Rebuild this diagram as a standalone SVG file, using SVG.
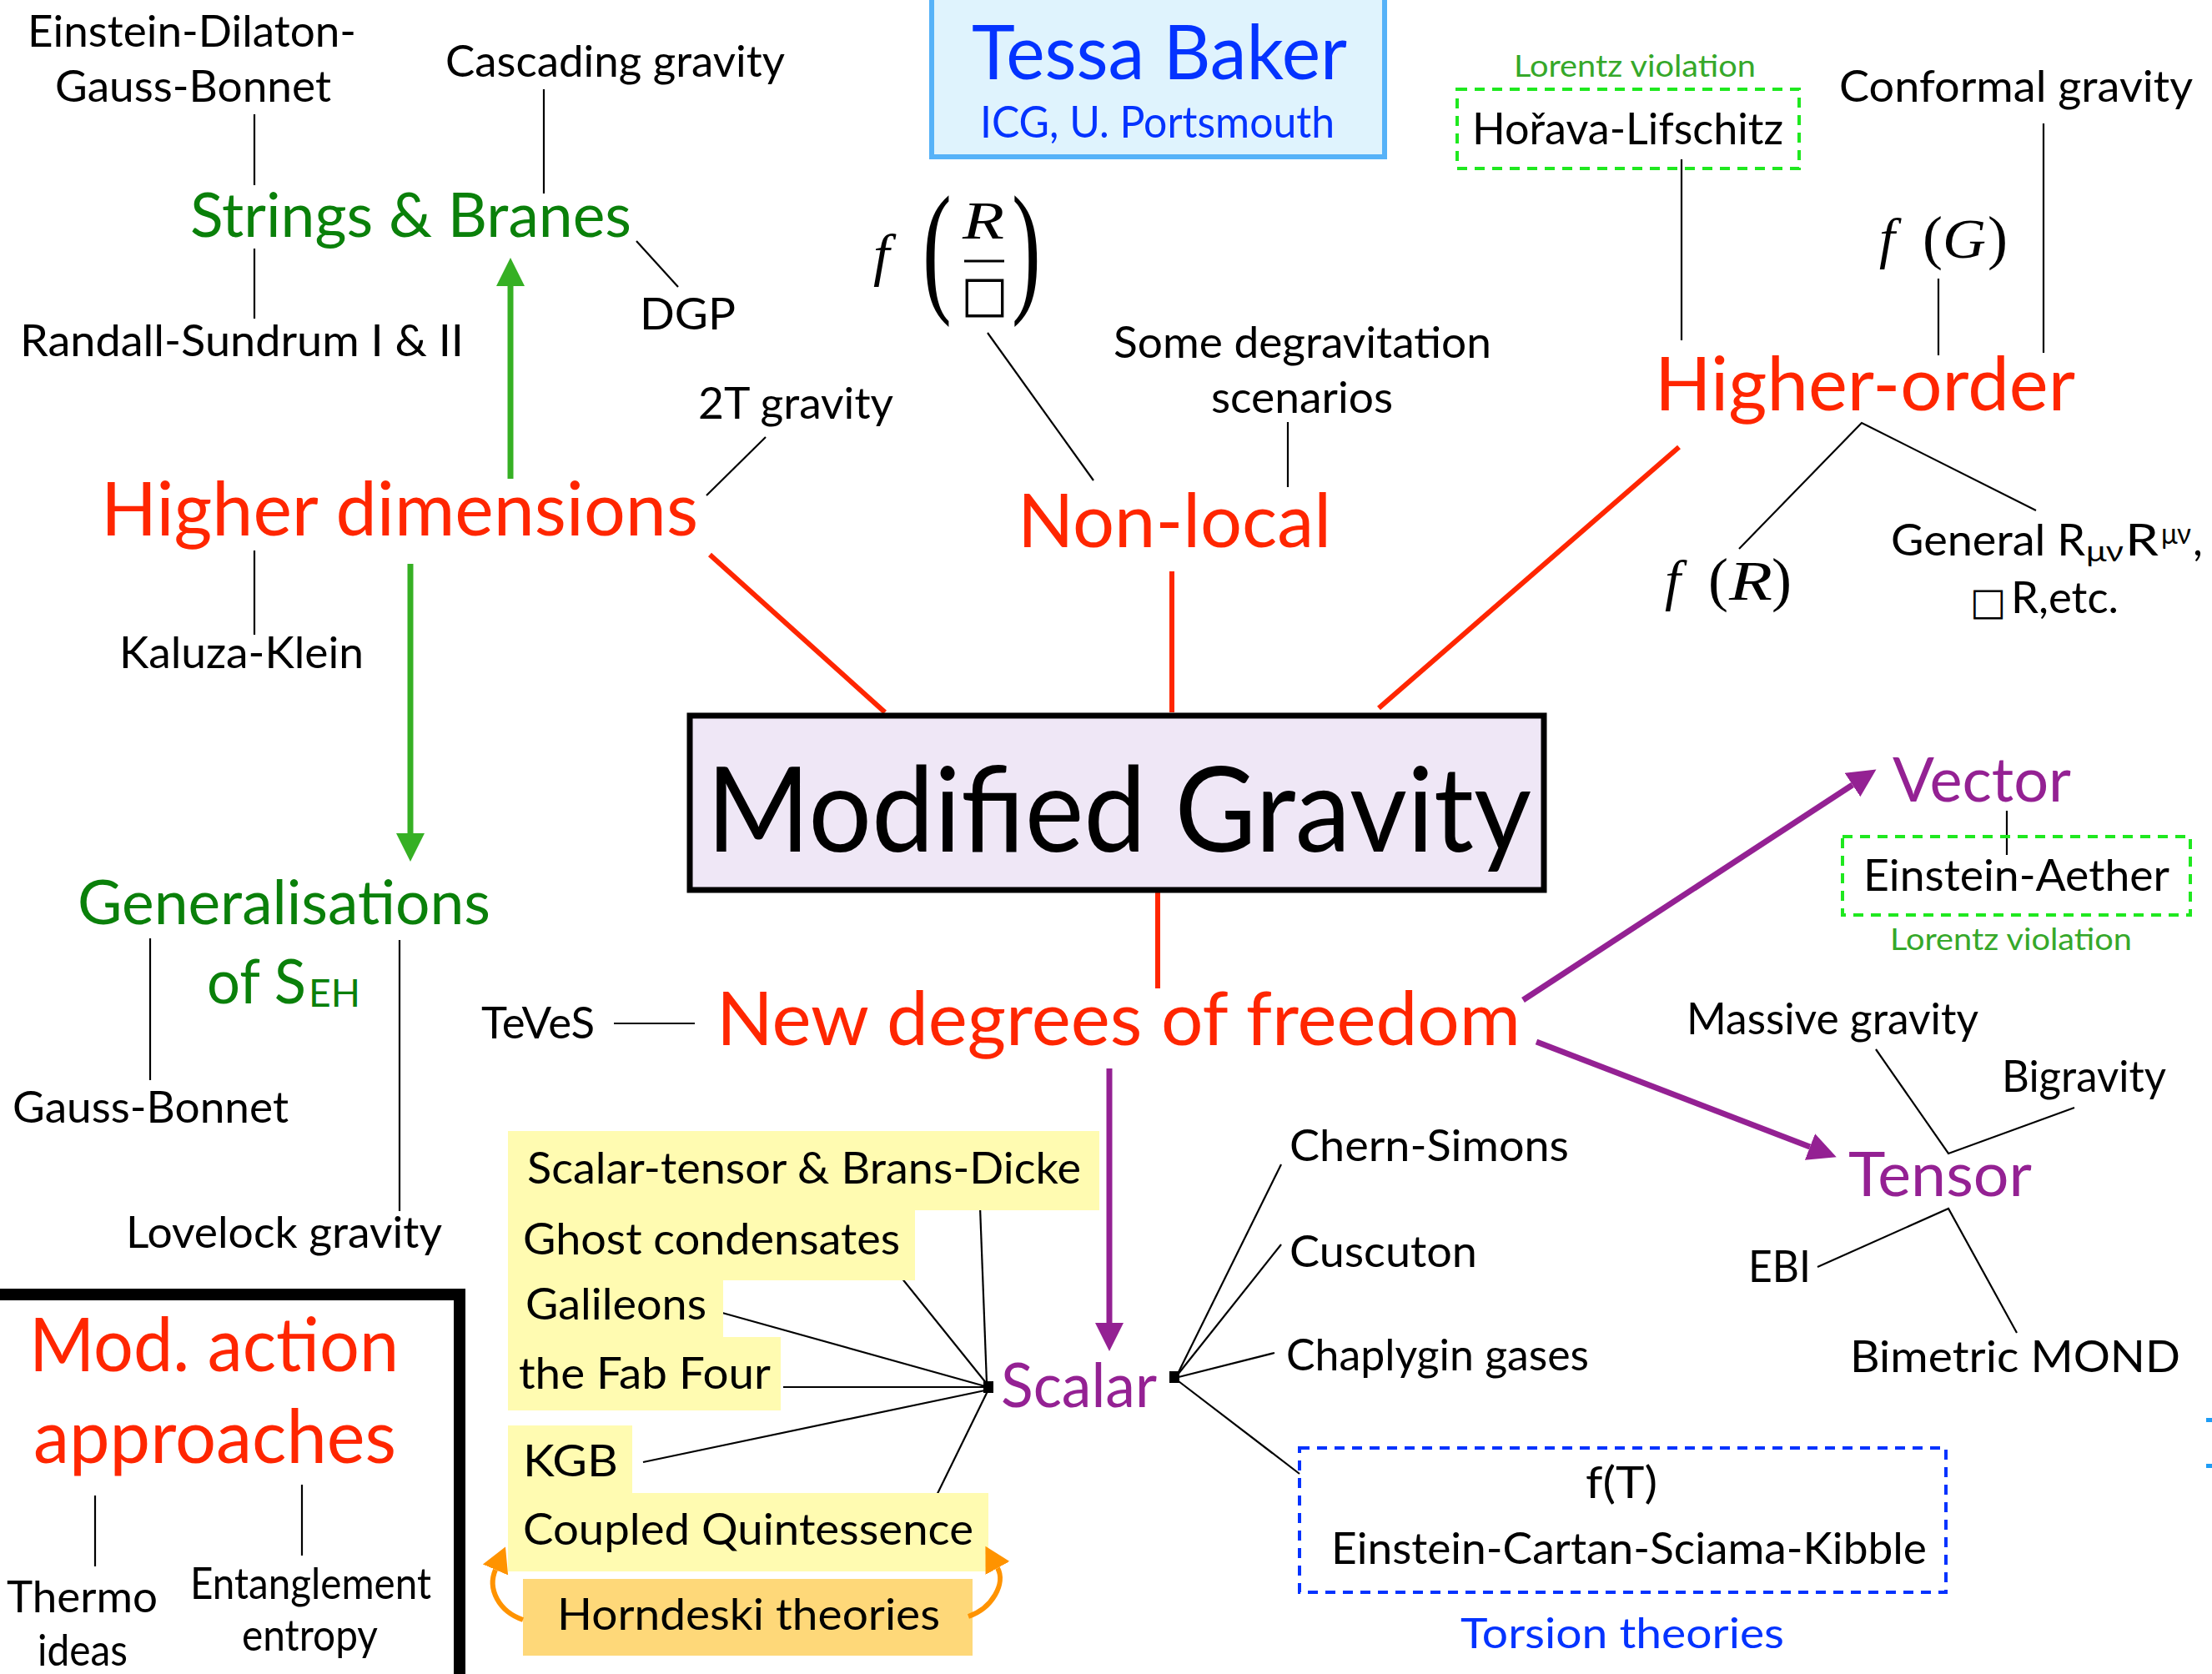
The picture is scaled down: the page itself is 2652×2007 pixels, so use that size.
<svg xmlns="http://www.w3.org/2000/svg" width="2652" height="2007" viewBox="0 0 2652 2007">
<style>
text { font-family: Lato, "Open Sans", sans-serif; }
.lbl { font-size: 52px; fill: #000; }
.red { font-size: 90px; fill: #ff2600; }
.grn { font-size: 74px; fill: #0a800a; }
.pur { font-size: 73px; fill: #942193; }
.lor { font-size: 36px; fill: #36a82a; }
.blu { fill: #0433ff; }
.math { font-family: "Liberation Serif", "Times New Roman", serif; fill: #000; }
.mi { font-family: "Liberation Serif", "Times New Roman", serif; font-style: italic; fill: #000; }
.sym { font-family: "DejaVu Sans", sans-serif; fill: #000; }
.ln { stroke: #000; stroke-width: 2.2; fill: none; }
.rl { stroke: #ff2600; stroke-width: 6; fill: none; }
.ga { stroke: #36b024; stroke-width: 7; marker-end: url(#gh); }
.pa { stroke: #942193; stroke-width: 7; marker-end: url(#ph); }
.oa { stroke: #ff9300; stroke-width: 6; fill: none; marker-end: url(#oh); }
.dg { fill: none; stroke: #1fe81f; stroke-width: 4; stroke-dasharray: 12 9; }
.db { fill: none; stroke: #0433ff; stroke-width: 4; stroke-dasharray: 12 9; }
.yb { fill: #fffbb1; }
</style>
<defs>
<marker id="gh" markerUnits="userSpaceOnUse" markerWidth="36" markerHeight="36" viewBox="0 0 36 36" refX="0" refY="18" orient="auto"><path d="M0,1 L34,18 L0,35 Z" fill="#36b024"/></marker>
<marker id="ph" markerUnits="userSpaceOnUse" markerWidth="36" markerHeight="36" viewBox="0 0 36 36" refX="0" refY="18" orient="auto"><path d="M0,1 L34,18 L0,35 Z" fill="#942193"/></marker>
<marker id="oh" markerUnits="userSpaceOnUse" markerWidth="32" markerHeight="35" viewBox="0 0 32 35" refX="0" refY="17.5" orient="auto"><path d="M0,1 L30,17.5 L0,34 Z" fill="#ff9300"/></marker>
</defs>
<rect width="2652" height="2007" fill="#fff"/>

<g id="connectors">
  <line class="ln" x1="305" y1="137" x2="305" y2="222"/>
  <line class="ln" x1="652" y1="107" x2="652" y2="232"/>
  <line class="ln" x1="305" y1="298" x2="305" y2="382"/>
  <line class="ln" x1="763" y1="289" x2="813" y2="344"/>
  <line class="ln" x1="918" y1="524" x2="847" y2="594"/>
  <line class="ln" x1="305" y1="660" x2="305" y2="761"/>
  <line class="ln" x1="1184" y1="399" x2="1311" y2="576"/>
  <line class="ln" x1="1544" y1="506" x2="1544" y2="584"/>
  <line class="ln" x1="2016" y1="191" x2="2016" y2="408"/>
  <line class="ln" x1="2324" y1="334" x2="2324" y2="426"/>
  <line class="ln" x1="2450" y1="148" x2="2450" y2="423"/>
  <polyline class="ln" points="2085,658 2232,507 2441,612"/>
  <line class="ln" x1="180" y1="1125" x2="180" y2="1295"/>
  <line class="ln" x1="479" y1="1127" x2="479" y2="1452"/>
  <line class="ln" x1="736" y1="1227" x2="833" y2="1227"/>
  <line class="ln" x1="114" y1="1793" x2="114" y2="1878"/>
  <line class="ln" x1="362" y1="1780" x2="362" y2="1865"/>
  <line class="ln" x1="2406" y1="972" x2="2406" y2="1025"/>
  <polyline class="ln" points="2249,1258 2336,1383 2487,1328"/>
  <polyline class="ln" points="2179,1519 2336,1449 2418,1598"/>
  <line class="ln" x1="1175" y1="1447" x2="1183" y2="1658"/>
  <line class="ln" x1="1068" y1="1516" x2="1183" y2="1659"/>
  <line class="ln" x1="866" y1="1574" x2="1181" y2="1662"/>
  <line class="ln" x1="939" y1="1663" x2="1181" y2="1663"/>
  <line class="ln" x1="771" y1="1753" x2="1181" y2="1667"/>
  <line class="ln" x1="1115" y1="1809" x2="1184" y2="1668"/>
  <rect x="1179" y="1656" width="12" height="14" fill="#000"/>
  <line class="ln" x1="1412" y1="1647" x2="1536" y2="1396"/>
  <line class="ln" x1="1412" y1="1648" x2="1536" y2="1492"/>
  <line class="ln" x1="1413" y1="1651" x2="1528" y2="1622"/>
  <line class="ln" x1="1413" y1="1656" x2="1558" y2="1767"/>
  <rect x="1402" y="1644" width="12" height="14" fill="#000"/>
  <line class="rl" x1="851" y1="665" x2="1061" y2="854"/>
  <line class="rl" x1="1405" y1="685" x2="1405" y2="854"/>
  <line class="rl" x1="2013" y1="536" x2="1653" y2="849"/>
  <line class="rl" x1="1388" y1="1070" x2="1388" y2="1185"/>
  <line class="ga" x1="612" y1="574" x2="612" y2="343"/>
  <line class="ga" x1="492" y1="676" x2="492" y2="999"/>
  <line class="pa" x1="1330" y1="1281" x2="1330" y2="1586"/>
  <line class="pa" x1="1826" y1="1199" x2="2221" y2="941"/>
  <line class="pa" x1="1842" y1="1249" x2="2170" y2="1375"/>
</g>

<g id="tessa-baker">
  <rect x="1117" y="-3" width="543" height="191" fill="#dff3fd" stroke="#56b2f8" stroke-width="6"/>
  <text class="blu" x="1165" y="95" font-size="91" textLength="450" lengthAdjust="spacingAndGlyphs">Tessa Baker</text>
  <text class="blu" x="1175" y="165" font-size="52" textLength="425" lengthAdjust="spacingAndGlyphs">ICG, U. Portsmouth</text>
</g>

<g id="modified-gravity">
  <rect x="827" y="858" width="1024" height="209" fill="#efe7f6" stroke="#000" stroke-width="7"/>
  <text x="847" y="1021" font-size="141" fill="#000" textLength="989" lengthAdjust="spacingAndGlyphs">Modified Gravity</text>
</g>

<g id="higher-dimensions"><text class="red" x="121" y="642" textLength="716" lengthAdjust="spacingAndGlyphs">Higher dimensions</text></g>
<g id="non-local"><text class="red" x="1220" y="656" textLength="376" lengthAdjust="spacingAndGlyphs">Non-local</text></g>
<g id="higher-order"><text class="red" x="1984" y="492" textLength="504" lengthAdjust="spacingAndGlyphs">Higher-order</text></g>
<g id="new-dof"><text class="red" x="859" y="1253" textLength="964" lengthAdjust="spacingAndGlyphs">New degrees of freedom</text></g>

<g id="strings-branes"><text class="grn" x="228" y="284" textLength="529" lengthAdjust="spacingAndGlyphs">Strings &amp; Branes</text></g>
<g id="generalisations">
  <text class="grn" x="93" y="1108" textLength="495" lengthAdjust="spacingAndGlyphs">Generalisations</text>
  <text class="grn" x="248" y="1203" textLength="119" lengthAdjust="spacingAndGlyphs">of S</text>
  <text x="370" y="1207" font-size="46" fill="#0a800a" textLength="62" lengthAdjust="spacingAndGlyphs">EH</text>
</g>

<g id="edgb"><text class="lbl" x="33" y="56" textLength="394" lengthAdjust="spacingAndGlyphs">Einstein-Dilaton-</text><text class="lbl" x="66" y="122" textLength="331" lengthAdjust="spacingAndGlyphs">Gauss-Bonnet</text></g>
<g id="cascading"><text class="lbl" x="534" y="92" textLength="407" lengthAdjust="spacingAndGlyphs">Cascading gravity</text></g>
<g id="randall-sundrum"><text class="lbl" x="24" y="427" textLength="532" lengthAdjust="spacingAndGlyphs">Randall-Sundrum I &amp; II</text></g>
<g id="dgp"><text class="lbl" x="767" y="395" textLength="115" lengthAdjust="spacingAndGlyphs">DGP</text></g>
<g id="twot"><text class="lbl" x="837" y="502" textLength="234" lengthAdjust="spacingAndGlyphs">2T gravity</text></g>
<g id="kaluza-klein"><text class="lbl" x="143" y="801" textLength="293" lengthAdjust="spacingAndGlyphs">Kaluza-Klein</text></g>
<g id="gauss-bonnet"><text class="lbl" x="15" y="1346" textLength="331" lengthAdjust="spacingAndGlyphs">Gauss-Bonnet</text></g>
<g id="lovelock"><text class="lbl" x="151" y="1496" textLength="379" lengthAdjust="spacingAndGlyphs">Lovelock gravity</text></g>
<g id="teves"><text class="lbl" x="577" y="1245" textLength="136" lengthAdjust="spacingAndGlyphs">TeVeS</text></g>
<g id="degravitation"><text class="lbl" x="1335" y="429" textLength="453" lengthAdjust="spacingAndGlyphs">Some degravitation</text><text class="lbl" x="1452" y="495" textLength="218" lengthAdjust="spacingAndGlyphs">scenarios</text></g>

<g id="f-r-box">
  <text class="mi" x="1047" y="329" font-size="70">f</text>
  <text class="math" font-size="174" transform="translate(1106,355) scale(0.6,1)">(</text>
  <text class="mi" x="1154" y="286" font-size="64" textLength="50" lengthAdjust="spacingAndGlyphs">R</text>
  <line x1="1156" y1="313" x2="1204" y2="313" stroke="#000" stroke-width="3"/>
  <text class="sym" x="1152" y="373" font-size="60">□</text>
  <text class="math" font-size="174" transform="translate(1213,355) scale(0.6,1)">)</text>
</g>

<g id="horava">
  <text class="lor" x="1815" y="92" textLength="290" lengthAdjust="spacingAndGlyphs">Lorentz violation</text>
  <rect class="dg" x="1747" y="107" width="410" height="95"/>
  <text class="lbl" x="1765" y="173" textLength="373" lengthAdjust="spacingAndGlyphs">Hořava-Lifschitz</text>
</g>
<g id="conformal"><text class="lbl" x="2205" y="122" textLength="424" lengthAdjust="spacingAndGlyphs">Conformal gravity</text></g>
<g id="f-g">
  <text class="mi" x="2253" y="309" font-size="68">f</text>
  <text class="math" x="2305" y="309" font-size="72">(</text>
  <text class="mi" x="2329" y="309" font-size="68" textLength="52" lengthAdjust="spacingAndGlyphs">G</text>
  <text class="math" x="2383" y="309" font-size="72">)</text>
</g>
<g id="f-r">
  <text class="mi" x="1996" y="719" font-size="68">f</text>
  <text class="math" x="2048" y="719" font-size="72">(</text>
  <text class="mi" x="2073" y="719" font-size="68" textLength="52" lengthAdjust="spacingAndGlyphs">R</text>
  <text class="math" x="2124" y="719" font-size="72">)</text>
</g>
<g id="general">
  <text class="lbl" x="2267" y="666" textLength="233" lengthAdjust="spacingAndGlyphs">General R</text>
  <text x="2501" y="673" font-size="34" fill="#000" textLength="45" lengthAdjust="spacingAndGlyphs">μν</text>
  <text class="lbl" x="2548" y="666" textLength="40" lengthAdjust="spacingAndGlyphs">R</text>
  <text x="2591" y="652" font-size="34" fill="#000" textLength="36" lengthAdjust="spacingAndGlyphs">μν</text>
  <text class="lbl" x="2629" y="666">,</text>
  <text class="sym" x="2362" y="737" font-size="46">□</text>
  <text class="lbl" x="2411" y="735" textLength="129" lengthAdjust="spacingAndGlyphs">R,etc.</text>
</g>

<g id="vector">
  <text class="pur" x="2269" y="961" textLength="214" lengthAdjust="spacingAndGlyphs">Vector</text>
</g>
<g id="einstein-aether">
  <rect class="dg" x="2209" y="1003" width="417" height="94"/>
  <text class="lbl" x="2234" y="1068" textLength="367" lengthAdjust="spacingAndGlyphs">Einstein-Aether</text>
  <text class="lor" x="2266" y="1139" textLength="290" lengthAdjust="spacingAndGlyphs">Lorentz violation</text>
</g>
<g id="tensor"><text class="pur" x="2216" y="1434" textLength="220" lengthAdjust="spacingAndGlyphs">Tensor</text></g>
<g id="massive"><text class="lbl" x="2022" y="1240" textLength="350" lengthAdjust="spacingAndGlyphs">Massive gravity</text></g>
<g id="bigravity"><text class="lbl" x="2400" y="1309" textLength="197" lengthAdjust="spacingAndGlyphs">Bigravity</text></g>
<g id="ebi"><text class="lbl" x="2096" y="1537" textLength="75" lengthAdjust="spacingAndGlyphs">EBI</text></g>
<g id="bimetric"><text class="lbl" x="2218" y="1645" textLength="396" lengthAdjust="spacingAndGlyphs">Bimetric MOND</text></g>

<g id="scalar"><text class="pur" x="1200" y="1687" textLength="187" lengthAdjust="spacingAndGlyphs">Scalar</text></g>

<g id="scalar-theories">
  <rect class="yb" x="609" y="1356" width="709" height="95"/>
  <rect class="yb" x="609" y="1450" width="488" height="85"/>
  <rect class="yb" x="609" y="1534" width="258" height="70"/>
  <rect class="yb" x="609" y="1603" width="327" height="88"/>
  <rect class="yb" x="609" y="1709" width="149" height="82"/>
  <rect class="yb" x="609" y="1790" width="576" height="94"/>
  <text class="lbl" x="632" y="1419" textLength="664" lengthAdjust="spacingAndGlyphs">Scalar-tensor &amp; Brans-Dicke</text>
  <text class="lbl" x="627" y="1504" textLength="452" lengthAdjust="spacingAndGlyphs">Ghost condensates</text>
  <text class="lbl" x="630" y="1582" textLength="217" lengthAdjust="spacingAndGlyphs">Galileons</text>
  <text class="lbl" x="622" y="1665" textLength="302" lengthAdjust="spacingAndGlyphs">the Fab Four</text>
  <text class="lbl" x="627" y="1770" textLength="114" lengthAdjust="spacingAndGlyphs">KGB</text>
  <text class="lbl" x="627" y="1852" textLength="540" lengthAdjust="spacingAndGlyphs">Coupled Quintessence</text>
</g>
<g id="horndeski">
  <rect x="627" y="1893" width="539" height="92" fill="#fed879"/>
  <text class="lbl" x="668" y="1954" textLength="459" lengthAdjust="spacingAndGlyphs">Horndeski theories</text>
  <path class="oa" d="M627,1942 C598,1932 584,1905 594,1882"/>
  <path class="oa" d="M1161,1938 C1190,1928 1206,1898 1196,1880"/>
</g>

<g id="chern-simons"><text class="lbl" x="1546" y="1392" textLength="335" lengthAdjust="spacingAndGlyphs">Chern-Simons</text></g>
<g id="cuscuton"><text class="lbl" x="1546" y="1519" textLength="225" lengthAdjust="spacingAndGlyphs">Cuscuton</text></g>
<g id="chaplygin"><text class="lbl" x="1542" y="1643" textLength="363" lengthAdjust="spacingAndGlyphs">Chaplygin gases</text></g>
<g id="torsion">
  <rect class="db" x="1558" y="1736" width="775" height="173"/>
  <text class="lbl" x="1901" y="1796" textLength="86" lengthAdjust="spacingAndGlyphs">f(T)</text>
  <text class="lbl" x="1596" y="1875" textLength="714" lengthAdjust="spacingAndGlyphs">Einstein-Cartan-Sciama-Kibble</text>
  <text class="blu" x="1751" y="1976" font-size="50" textLength="388" lengthAdjust="spacingAndGlyphs">Torsion theories</text>
</g>

<g id="mod-action">
  <rect x="-20" y="1552" width="571" height="500" fill="none" stroke="#000" stroke-width="14"/>
  <text class="red" x="35" y="1644" textLength="443" lengthAdjust="spacingAndGlyphs">Mod. action</text>
  <text class="red" x="40" y="1754" textLength="435" lengthAdjust="spacingAndGlyphs">approaches</text>
  <text class="lbl" x="8" y="1933" textLength="181" lengthAdjust="spacingAndGlyphs">Thermo</text>
  <text class="lbl" x="45" y="1997" textLength="108" lengthAdjust="spacingAndGlyphs">ideas</text>
  <text class="lbl" x="228" y="1917" textLength="289" lengthAdjust="spacingAndGlyphs">Entanglement</text>
  <text class="lbl" x="290" y="1979" textLength="163" lengthAdjust="spacingAndGlyphs">entropy</text>
</g>

<g id="edge-marks">
  <rect x="2645" y="1700" width="7" height="5" fill="#1e9cf5"/>
  <rect x="2645" y="1755" width="7" height="5" fill="#1e9cf5"/>
</g>
</svg>
